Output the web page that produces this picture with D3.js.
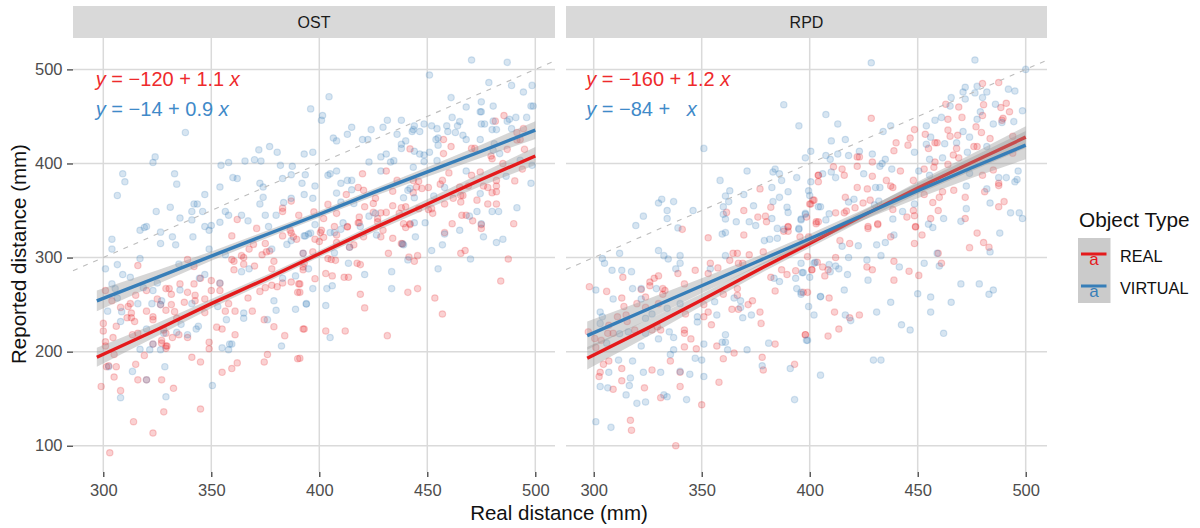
<!DOCTYPE html>
<html><head><meta charset="utf-8">
<script src="https://cdn.jsdelivr.net/npm/d3@7/dist/d3.min.js"></script>
<style>html,body{margin:0;padding:0;background:#fff}svg{display:block}text{font-family:"Liberation Sans",Arial,sans-serif}</style>
</head><body><svg id="c" width="1200" height="528"></svg>
<script>
const panels = ["OST","RPD"];
const xTicks = [300,350,400,450,500];
const yTicks = [100,200,300,400,500];
const typeNames = ["REAL","VIRTUAL"];
const typeColors = ["#E41A1C","#377EB8"];
const eqReal = ["\u2212120","1.1"];
const eqVirtual = ["\u221214","0.9"];
const eqRealRpd = ["\u2212160","1.2"];
const eqVirtualRpd = ["\u221284",""];
const fitX = [297,325,350,375,400,425,450,475,500];
const ostRealFit = [194,223.5,251,277,304,331,357,383,408];
const ostVirtualFit = [254,279,301.5,324,346,369,391,413,435.5];
const rpdRealFit = [193,225,255,285.5,315,345,374,401,428];
const rpdVirtualFit = [217,245,270,295,320,345.5,371,395.5,419.5];
const ostRealCi = [10,7,5,4,3.5,4,5,7,9.5];
const ostVirtualCi = [11,7.5,5,4,3.5,4,5,7,9.5];
const rpdRealCi = [12,9,6.5,5,4.5,5,6.5,9,11.5];
const rpdVirtualCi = [15,11,8,5.5,5,5.5,8,11,15];

const ostVirtual = [[396,458],[338,433],[324,407],[323,401],[309,389],[333,389],[354.5,398],[358,401],[365.6,402.5],[370,404],[373,402.5],[372,414.5],[377,418],[380.5,412],[382,398],[387.5,397],[393,410],[397,412],[360,385],[362,384],[383,384],[387,388],[393.5,388],
[310,380.5],[334,378],[306.5,366],[347,367],[354,375],[372.5,379],[374,375],[374,364],[372.5,357],[392,379],[387,363],[383.5,358.5],[393,367],[324.5,349],[331,353.5],[342,357],[343.5,357],[341,349],[346,349],[335.5,342],[341,340],[356.5,349],[358,345],[364,345],[367,339],[354,337.5],[347,333],[350,334],[349,329],[375,345],[380,345],[376.5,333],[317,329],[319,332],[320,333],[326.5,327],[332,322],[341.5,322],[326.5,315],[333.5,313.5],[304,319.5],[304,309],[317,299],[306.5,292.5],[301,288],[309,282],[312.5,279],[335,293],[349,309],[356.5,303],[364,285],[367.5,288],[378,309],[385,314],[387,318],[393.5,323],[396,326],[304,272],[305.5,267],[306.5,257],[302,243],[308.5,242.5],[308,232],[316,251],[318.5,268],[323,265],[325,273],[335.5,265.5],[322.5,251],[327,254],[326.5,250],[347,282],[344.5,278],[341,251],[354,273],[353,248],[357,234],[365,241],[365,235.5],[376,234],[379,254],[380,244],[389,245],[394,251],[389,280.5],[383,278],[336,229],[344,227],[343,224],[334,220.5],[339,218],[320,224],[328,219.5],[358.5,208],[355,204],
[302.5,184],[313.5,179],[328.5,184],[308,151],[329,152],[350.5,164],[317,202.5],[321.5,202],[326.5,202],[323,208],[358,202],[359.5,208],[382.5,206],[320,170],
[470.5,510],[487,507.5],[451,494],[404.5,471],[478.5,486],[489,483],[498.5,483],[494.5,476],[499,461],[498,461],[461,470],[468,460],[475,465.5],[480.5,461],[474.5,455],[475,455],[401.5,451],[401,446],[431.5,446],[438,446],[461.5,449],[465,444.5],[475,442],[476.5,442],[480.5,445],[488,447],[487,445],[491,449],[496,449],[415,438.5],[424,436],[429.5,438.5],[444,440],[448.5,442],[452,440],[454.5,437],[459,440],[443,434],[443.5,436],[446.5,434],[459.5,434],[463,433],[464,440],[480,436],[482,436],[489,437],[406.5,427],[408,424],[413,431],[420,425.5],[422.5,425.5],[436,431],[438,420.5],[438,416],[440,424],[454,425.5],[455,427],[455,419.5],[466.5,430],[468,425.5],[474.5,425.5],[481,421],[423,401.5],[428.5,407],[431,410],[433,401.5],[434.5,403],[444,413],[446.5,410],[448.5,409],[451,412],[448.5,402],[454.5,403],[443.5,396],[428.5,392],[404,387.5],[405,389],[408,392],[398,376],[410,379],[413,382],[415,382],[415,372],[408,368.5],[397,363],[410,359],[416,357.5],[441,371.5],[442,373.5],[439,363.5],[444,363.5],[458,374.5],[453,365.5],[474.5,368],[473,349],[480,349],[483,349],[491.5,353],[468,392],[486.5,386.5],[498.5,398],[498,379],[398,335],[411,337],[419,333],[423,344],[426,347],[449,337],[444,337],[469.5,344],[475,336],[480.5,414],[493,403.5],[483.5,410.5],
[393,323],[395,325],[405,326.5],[407,326.5],[410,330],[426.5,324],[444.5,322],[439,313.5],[465,329],[458,325],[476,322],[482,316],[485,319.5],[457,313.5],[452,307.5],[470,298.5],[441,297.5],[455,288],[433.5,285],[433.5,267],[413.5,294],[421,282],[407,305],[392.5,304.5],[395,288],[397,267],[403.5,267],[406,270],[394,250.5],[403,249],[405,215],[414,311],[438.5,314.5]];

const ostReal = [[316,291.5],[339,298],[342,290.5],[362,340.5],[359.5,323],[371,331],[375,315],[369.5,314],[367.5,309],[375.5,306],[377,307],[373.5,303],[364,302],[365,300],[359.5,298],[360.5,296],[365,293],[360.5,287],[370,291],[379,296],[378,288],[383,352.5],[383,349],[387,360],[390.5,345],[386.5,329],[387,326],[383,323],[388,322],[389.5,319.5],[392.5,304.5],[392.5,290],[387,274],[390.5,272],[390,263],[378,270.5],[380.5,269],[383,273],[375,268],[372.5,264],[367,257],[345,278],[350,275.5],[354,272.5],[342,272],[335.5,272],[329,267],[330.5,267],[331.5,261],[339,263],[342.5,260],[350,265],[354,265],[315,260],[320,265],[301,265],[304,254],[325,256],[326.5,250],[331.5,250],[337.5,252.5],[342.5,254],[347,256],[358,251],[312.5,251],[311.5,248],[308,247],[313,241],[311,236],[313,236],[320,243],[323,237],[323,234],[329,244],[333,242.5],[334,235.5],[347,241.5],[356.5,243],[361,243],[369,243],[374.5,234],[379,226.5],[384,217],[392.5,224],[361,218],[352.5,226],[355,224],[349,210],[300,230],[300,222],[306,227],[304.5,215],[301,210.5],[301,206],[314.5,232],[313.5,218],[316,219.5],[328,223],[329,219.5],[327,212],[335,218],[339,215],[332,215],[329,206],[323,208],
[305,197],[302.5,185],[301.5,184],[306,184],[305,173],[315,186.5],[319,196],[316,170],[320,170],[327,170],[332.5,161],[308,158.5],[299,163],[328,136],[314,125.5],[323,113.5],[303,92.5],[345,139],[345,189],[341,194],[349,203],[362,188],[359.5,182],[355,178],[374.5,189],[376,197],[390,192.5],[327,209],[329.5,206],[329,203.5],
[485.5,451],[481.5,445],[457.5,425.5],[442,415.5],[461,418],[470.5,416],[472,416],[494.5,437],[491.5,433],[491.5,425],[493,425.5],[495,415],[487,415],[485,400],[479.5,408],[480,405],[457.5,410.5],[494,394],[420,389],[431,392],[460,390],[470.5,387.5],[474.5,391],[436,382],[443.5,382],[446,381],[457,382],[456,378],[450.5,374.5],[447.5,373.5],[445,375],[443.5,369],[434,370.5],[426,363],[425,357.5],[421,354],[418,374.5],[420.5,371.5],[412.5,367],[404,356.5],[402,341.5],[397.5,348.5],[408,347],[407,333],[413,332.5],[418.5,343],[418.5,337],[427,341.5],[425,348],[428.5,347.5],[431,348],[434,355],[438,353],[440,354],[437,347],[446,352],[450.5,351],[452,352],[452.5,347],[458,357],[462,363],[465.5,366],[466.5,366],[465,375],[469,376],[465.5,359],[473,361],[476,376],[478,374.5],[482,376],[480,369],[482,370],[482,382],[490.5,381.5],[478,357],[482,357],[466,345],[468,345],[471,339],[461.5,336],[490,336],[475,335],[439,336],[442,335],
[401,329],[402,321.5],[400.5,326.5],[398,319.5],[400,317],[408,324],[413,333],[418,337],[427,338],[420.5,322],[429.5,329],[428.5,322],[434,320.5],[438,315],[432,304.5],[441.5,300.5],[445.5,302],[444,296],[440,332],[442,336],[475,331],[458,326.5],[465.5,304.5],[467.5,307.5],[487.5,298.5],[484,275],[453.5,257],[457,240],[445.5,267],[441,263],[431.5,217],[412,222],[403,222],[393,224],[421,246.5],[419,261],[411.5,279],[413.5,279],[403,283],[406,280.5],[417.5,294],[419,292.5],[407.5,297],[404,299],[405.5,298],[398,277.5],[392.5,287],[393,294],[391,272],[391,263],[391,193],[397,306],[408,316],[414,311],[416,313.5],[438.5,314.5]];

const rpdVirtual = [[388,462.5],[395,440],[351,416],[400.5,413],[398,406],[371,392],[358.5,382],[384,394],[383,391],[386,389],[387,382],[394,385],[363,371],[361,365.5],[369.5,367],[382.5,374.5],[390,370],[400.5,380.5],[399.5,371],[400,366],[331.5,362],[330,358],[337,359.5],[362.5,359.5],[386,364],[383,359.5],[334,350],[323,344],[334,341.5],[319.5,334],[346,350],[360,354],[360,346],[361,341],[366,338],[374,355],[372,338],[375,334],[382.5,341.5],[389.5,353.5],[390,348],[398,346],[396,340],[405,354],[339,331.5],[385,331],[395,331],
[359.5,325],[361,326.5],[379,318],[381.5,319.5],[385,320.5],[388,330],[395,330],[361,302],[330,307.5],[332.5,302],[334.5,298.5],[340,302],[340,294],[312,304.5],[304,299],[305,294],[308.5,286.5],[313,286.5],[317.5,285],[338,288],[354,288],[301,265.5],[318,267],[322,267],[329,267],[309,256],[322,256],[303,242],[304,237],[303,230],[324,235.5],[327,240],[334,246],[340,251],[312,219],[316,221],[324,219.5],[335,221],[337,215],[330,213.5],[322,206],[306,209],[337,202],[335.5,197],[351,208],[348,237],[348,231.5],[357,239],[356,253],[365,257],[368,254],[368,247],[369,236],[373,239],[361,218],[359.5,210],[361,210],[362,202],[371,202],[381,209],[347,193],[350,191],[351,173.5],[311.5,191],[318,190],[307,178],[323,178],[331,178],[340,179],[344.5,176],[317,172],[316.5,164],[303,163],[306.5,161.5],[315,154],[320,145],[324,146.5],[332.5,154],[334,152],[343,149],[301,125.5],[308,119.5],[393,149],[391,182],[378,185],[399,212],[399.5,248],[402,239],[396,261],[394,267],[393.5,278],[386,274.5],[383.5,278],[397,284],[400,279],[396,294],[402.5,295],[405,175],[405,258.5],
[428.5,507],[476.5,510],[500,500],[472,481],[471,476],[477.5,482],[482,476],[476.5,475],[480,470],[492,479],[495,477],[465.5,470],[472,468.5],[465,461],[486,463],[498.5,456],[407.5,452],[413,442],[437.5,440],[434,434],[454,440],[458,446],[461,449],[477.5,447],[479,455],[485,442],[489,443.5],[494.5,444.5],[410,424],[416.5,425.5],[407.5,408.5],[409.5,404.5],[413,410],[418,408.5],[423,413],[429,410],[448.5,412],[435,404.5],[432.5,397],[433.5,400],[438,394],[455.5,404.5],[461.5,406],[450.5,392],[454,420.5],[456,428],[462.5,421],[468,422],[471,434],[474,428],[473,412],[482,418],[406,389],[410,391],[412,385],[425,389],[455.5,387.5],[418,359],[420.5,362],[430.5,374.5],[432.5,374.5],[432,360],[430,356],[472.5,376],[496.5,392],[495,380.5],[496,383],[491,385],[487.5,385],[482,373],[483.5,358],[472.5,352],[474,389.5],[493,347.5],[497,347.5],[498.5,341.5],[462,341.5],[470,338.5],[438.5,341],[448.5,357],[443,349],[457,332],[455,335.5],[398,347],[396,341],[409,346.5],[407.5,340],[404,354],
[415,312],[422.5,312.5],[431,313.5],[435,316],[439,324],[488,326],[483.5,306],[459,304.5],[418,300],[426.5,297.5],[453,294],[433,302],[441.5,290],[460,291],[402,294],[409,292.5],[412,291],[413.5,288],[409.5,285],[396.5,284],[417.5,282],[427,276],[470,272],[478.5,272],[485,265.5],[483,261],[416,265.5],[405,258.5],[416.5,239],[419,233],[431,242],[437.5,252.5],[450,261.5],[456,258],[465.5,252.5],[456,242],[442.5,228.5],[446.5,223],[462,219.5],[398.5,212],[429.5,191],[433,191],[396,263]];

const rpdReal = [[377,373],[369.5,350],[361.5,348],[382,353.5],[376,343],[379.5,344],[380,338],[390,332.5],[402,361],[400.5,357],[404,387.5],[404,380.5],[398.5,343],[404,338],[341,330],
[353,321],[369.5,324],[390,333],[390,328],[388,328],[395.5,322],[399.5,322],[364.5,304.5],[366.5,304.5],[372,303],[378.5,306],[363,297],[354,294],[357.5,289],[347,286.5],[353,283],[339,283],[330,280.5],[328,278],[326,274],[326,270],[313.5,279],[298,269],[306,264],[322,266],[332,267],[333,265],[332,261],[313,257],[324,258],[342,272],[320,251],[314,248],[324,247],[330,251],[311,237],[315,239],[307,228],[306.5,219.5],[297.5,221],[300.5,214],[303.5,212],[309,219.5],[315.5,232],[319,223],[327,223],[329.5,226.5],[331,223],[342,223],[342,219.5],[345,213.5],[342,205],[347.5,203],[357,206],[365,198.5],[384,208],[398,218],[378,194],[378.5,180.5],[393,186.5],[335.5,190],[327,180.5],[313,182],[340,178],[307,190],[304.5,186.5],[303,178],[302.5,173.5],[313,169],[309,160],[323.5,161.5],[340,163],[358,167.5],[360,192.5],[331,151],[350,143.5],[317,127],[317.5,116.5],[338,100],[301,204.5],[351,237],[353,242],[354.5,228.5],[342.5,240],[351,250],[364,245],[367,245],[371.5,250],[373.5,254],[377,242],[377.5,230],[366.5,260],[366.5,267],[360,261],[382,279],[387,287],[389.5,282],[393.5,286],[384,264.5],[397,263],[401,287],[367,294],[369,294],
[428.5,448],[480,485],[487.5,486],[463,463],[469,460],[480.5,462.5],[491,464],[488.5,459.5],[492.5,455],[489.5,448],[489,446],[480,451],[470.5,449],[464,447],[464,435.5],[477,439],[479.5,433],[448.5,436],[453.5,431],[468.5,430],[465,429],[446.5,427],[440,422],[445.5,419.5],[458,422],[459,422],[468,416],[455,416],[439,413.5],[466.5,409],[469,406],[476,418],[477.5,418],[483.5,426.5],[422,407],[423,407],[429,401.5],[458,401.5],[457.5,396],[464,399],[415,394],[422,397],[411,396.5],[404,387.5],[416,387.5],[442,392],[453,394],[429,386.5],[435.5,382],[448,382],[422,374.5],[437.5,376],[438.5,374.5],[426.7,373],[461.5,370],[457,358.5],[460,364],[466.7,371.5],[453,367],[472,364],[459.5,350],[456,341.5],[472,341.5],[481,370],[480,387.5],[485,393],[487.5,379],[487.5,376.5],[487.5,354],[490,359.5],[494,429],[494,411],[416.5,364],[424.7,358],[428,361],[421,353],[416,347.5],[412,347.5],[417,349.5],[403,338],[403,336],[400,357],[401.5,361],[427,333],[431.5,335],[448,350],[448.5,344.5],[445,343],[449,332.5],[438.5,351],
[448.5,315],[452,324],[449,333],[431.5,336],[427,331],[437.5,322],[418.5,315],[414,318],[412,300],[403.5,295],[406,290],[401,287],[408.5,287],[407,280.5],[426.5,290],[429,287],[439,296],[439,276],[446,285.5],[450.5,281],[459.5,304.5],[461,294],[477.5,326],[480.5,316],[483,311],[474,310.5],[409,257],[411.5,242],[418.5,236],[423,239],[413.5,224],[408.5,216.5],[398,218],[399,263],[399,301]];

const svg = d3.select("#c");
const panelBoxes = [[73,555,103.3],[566,1047,593.7]];
const pTop = 38, pBottom = 472;
const y = d3.scaleLinear().domain([100,500]).range([445.7,69.4]);

const panelData = [
 {real:ostReal, virt:ostVirtual, rf:ostRealFit, vf:ostVirtualFit, rc:ostRealCi, vc:ostVirtualCi, er:eqReal, ev:eqVirtual},
 {real:rpdReal, virt:rpdVirtual, rf:rpdRealFit, vf:rpdVirtualFit, rc:rpdRealCi, vc:rpdVirtualCi, er:eqRealRpd, ev:eqVirtualRpd}
];

function eq(g, x0, yb, color, v){
  const t = g.append("text").attr("x",x0).attr("y",yb).attr("fill",color).attr("font-size",20).attr("xml:space","preserve");
  t.append("tspan").attr("font-style","italic").text("y");
  t.append("tspan").text(" = "+v[0]+" + "+(v[1]?v[1]+" ":"  "));
  t.append("tspan").attr("font-style","italic").text("x");
}

panels.forEach((name,i)=>{
  const [l,r,x300] = panelBoxes[i];
  const x = d3.scaleLinear().domain([300,500]).range([x300,x300+432]);
  const g = svg.append("g");
  g.append("rect").attr("x",l).attr("y",6).attr("width",r-l).attr("height",32).attr("fill","#D9D9D9");
  g.append("text").attr("x",(l+r)/2).attr("y",27.5).attr("text-anchor","middle").attr("font-size",16).attr("fill","#1A1A1A").text(name);

  g.selectAll(".gx").data(xTicks).join("line").attr("x1",d=>x(d)).attr("x2",d=>x(d)).attr("y1",pTop).attr("y2",pBottom).attr("stroke","#DADADA").attr("stroke-width",1.5);
  g.selectAll(".gy").data(yTicks).join("line").attr("x1",l).attr("x2",r).attr("y1",d=>y(d)).attr("y2",d=>y(d)).attr("stroke","#DADADA").attr("stroke-width",1.5);

  const ax = g.append("g").attr("transform",`translate(0,${pBottom})`).call(d3.axisBottom(x).tickValues(xTicks).tickSize(5).tickPadding(7));
  ax.select(".domain").remove();
  ax.selectAll("line").attr("stroke","#333").attr("stroke-width",1.2);
  ax.selectAll("text").attr("font-size",16.5).attr("fill","#4D4D4D").attr("font-family","Liberation Sans");
  if(i===0){
    const ay = g.append("g").attr("transform",`translate(${l},0)`).call(d3.axisLeft(y).tickValues(yTicks).tickSize(6).tickPadding(4.5));
    ay.select(".domain").remove();
    ay.selectAll("line").attr("stroke","#333").attr("stroke-width",1.2);
    ay.selectAll("text").attr("font-size",16.5).attr("fill","#4D4D4D").attr("font-family","Liberation Sans");
  }

  const d = panelData[i];
  [[d.real,0],[d.virt,1]].forEach(([pts,c])=>{
    g.append("g").selectAll("circle").data(pts).join("circle")
      .attr("cx",p=>x(p[0])).attr("cy",p=>y(p[1])).attr("r",3.2)
      .attr("fill",typeColors[c]).attr("fill-opacity",0.2)
      .attr("stroke",typeColors[c]).attr("stroke-opacity",0.2).attr("stroke-width",1.2);
  });

  const xe = [x.invert(l), x.invert(r)];
  g.append("line").attr("x1",l).attr("x2",r).attr("y1",y(xe[0])).attr("y2",y(xe[1]))
    .attr("stroke","#BDBDBD").attr("stroke-width",1.1).attr("stroke-dasharray","5 6");

  const area = d3.area().x(k=>x(fitX[k])), line = d3.line().x(k=>x(fitX[k]));
  [[d.rf,d.rc,0],[d.vf,d.vc,1]].forEach(([f,ci,c])=>{
    g.append("path").datum(d3.range(fitX.length))
      .attr("d",area.y0(k=>y(f[k]-ci[k])).y1(k=>y(f[k]+ci[k])))
      .attr("fill","#999").attr("fill-opacity",0.4);
    g.append("path").datum(d3.range(fitX.length))
      .attr("d",line.y(k=>y(f[k])))
      .attr("fill","none").attr("stroke",typeColors[c]).attr("stroke-width",3.4);
  });

  eq(g,x300-7.5,86,"#EE2A2C",d.er);
  eq(g,x300-7.5,116,"#3F8AC9",d.ev);
});

svg.append("text").attr("x",559).attr("y",520).attr("text-anchor","middle").attr("font-size",20.5).attr("fill","#111").text("Real distance (mm)");
svg.append("text").attr("transform","translate(26,254) rotate(-90)").attr("text-anchor","middle").attr("font-size",20.5).attr("fill","#111").text("Reported distance (mm)");

svg.append("text").attr("x",1079).attr("y",227).attr("font-size",20.8).attr("fill","#111").text("Object Type");
const keyY = [254,286];
const leg = svg.append("g");
leg.append("rect").attr("x",1078).attr("y",238).attr("width",32.5).attr("height",65).attr("fill","#CBCBCB");
typeNames.forEach((n,k)=>{
  leg.append("line").attr("x1",1081).attr("x2",1106.5).attr("y1",keyY[k]).attr("y2",keyY[k]).attr("stroke",typeColors[k]).attr("stroke-width",3);
  leg.append("text").attr("x",1094).attr("y",keyY[k]+11).attr("text-anchor","middle").attr("font-size",17).attr("fill",typeColors[k]).text("a");
  leg.append("text").attr("x",1120).attr("y",keyY[k]+8).attr("font-size",16.3).attr("fill","#111").text(n);
});
</script></body></html>
